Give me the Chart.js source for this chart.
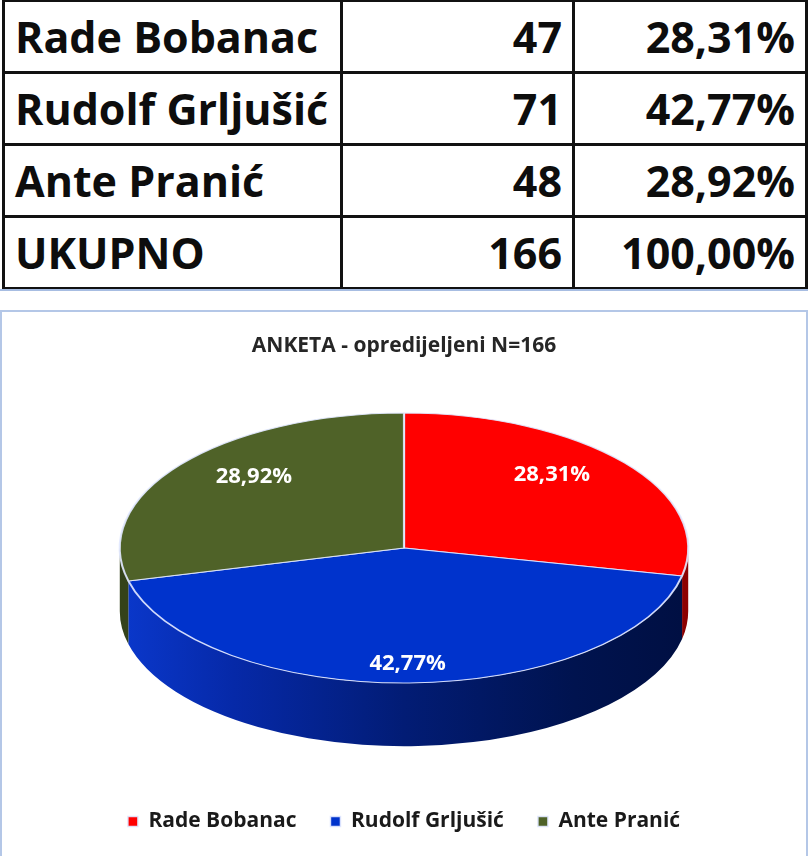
<!DOCTYPE html>
<html>
<head>
<meta charset="utf-8">
<script src="https://cdn.jsdelivr.net/npm/chart.js"></script>
<style>
  body { margin: 0; width: 808px; height: 856px; overflow: hidden; position: relative; background: #fff; }
  #summary { position: absolute; left: 2px; top: -1px; width: 803px; border-collapse: collapse; table-layout: fixed; }
  #summary td { border: 3px solid #111; height: 69px; padding: 0 10px; font: bold 43px 'Open Sans', sans-serif; color: #0d0d0d; white-space: nowrap; overflow: hidden; line-height: 1; }
  #summary td.num { text-align: right; padding-right: 10px; }
  #rule { position: absolute; left: 0; top: 289px; width: 808px; height: 2px; background: #a7bde2; }
  #box { position: absolute; left: 0; top: 310px; width: 804px; height: 560px; border: 2px solid #b4c7e7; }
  #myChart { display: block; }
</style>
</head>
<body>
<table id="summary">
  <colgroup><col style="width:338px"><col style="width:232px"><col style="width:233px"></colgroup>
  <tbody id="rows"></tbody>
</table>
<div id="rule"></div>
<div id="box"><canvas id="myChart" width="804" height="544"></canvas></div>
<script>
const candidates = ["Rade Bobanac", "Rudolf Grljušić", "Ante Pranić"];
const votes = [47, 71, 48];
const totalLabel = "UKUPNO";
const chartTitle = "ANKETA - opredijeljeni N=166";
const sliceColors = ["#ff0000", "#0033cc", "#4f6228"];
const wallColors = ["#8c0000", null, "#34421a"];

// look of the tilted pie
const PIE_WIDTH = 0.707;   // share of chart width taken by the pie
const TILT = 0.475;        // ry / rx
const DEPTH = 0.222;       // side height / rx
const LABEL_X = 0.67;
const LABEL_Y = 0.86;

const total = votes.reduce((a, b) => a + b, 0);
const fmtPct = (v) => (v / total * 100).toFixed(2).replace(".", ",") + "%";
const pctLabels = votes.map(fmtPct);

function buildTable() {
  const rowsEl = document.getElementById("rows");
  const addRow = (name, n, pct) => {
    const tr = document.createElement("tr");
    tr.innerHTML = `<td>${name}</td><td class="num">${n}</td><td class="num">${pct}</td>`;
    rowsEl.appendChild(tr);
  };
  candidates.forEach((name, i) => addRow(name, votes[i], pctLabels[i]));
  addRow(totalLabel, total, fmtPct(total));
}

const pie3d = {
  id: "pie3d",
  beforeDatasetsDraw(chart) {
    const ctx = chart.ctx;
    const area = chart.chartArea;
    const arcs = chart.getDatasetMeta(0).data;
    const r = arcs[0].outerRadius;
    const rx = (area.right - area.left) * PIE_WIDTH / 2;
    const ry = rx * TILT;
    const depth = rx * DEPTH;
    const cx = arcs[0].x;
    const cy = (area.top + area.bottom) / 2 - depth / 2;
    chart.$pie3d = { cx, cy, rx, ry };

    const grad = ctx.createLinearGradient(cx - rx, 0, cx + rx, 0);
    grad.addColorStop(0, "#0a38cc");
    grad.addColorStop(0.2, "#0629a8");
    grad.addColorStop(0.5, "#021c75");
    grad.addColorStop(0.8, "#00134f");
    grad.addColorStop(1, "#000f42");

    // side walls, front half only
    arcs.forEach((arc, i) => {
      const a0 = Math.max(arc.startAngle, 0);
      const a1 = Math.min(arc.endAngle, Math.PI);
      if (a1 <= a0) return;
      ctx.beginPath();
      ctx.ellipse(cx, cy, rx, ry, 0, a0, a1);
      ctx.ellipse(cx, cy + depth, rx, ry, 0, a1, a0, true);
      ctx.closePath();
      ctx.fillStyle = wallColors[i] || grad;
      ctx.fill();
    });

    // squash the library's pie onto the top face
    ctx.save();
    ctx.translate(cx, cy);
    ctx.scale(rx / r, ry / r);
    ctx.translate(-arcs[0].x, -arcs[0].y);
  },
  afterDatasetsDraw(chart) {
    const ctx = chart.ctx;
    ctx.restore();
    const { cx, cy, rx, ry } = chart.$pie3d;
    const arcs = chart.getDatasetMeta(0).data;
    ctx.save();
    ctx.font = "bold 22px 'Open Sans', sans-serif";
    ctx.fillStyle = "#ffffff";
    ctx.textAlign = "center";
    ctx.textBaseline = "middle";
    arcs.forEach((arc, i) => {
      const mid = (arc.startAngle + arc.endAngle) / 2;
      ctx.fillText(pctLabels[i], cx + rx * LABEL_X * Math.cos(mid), cy + ry * LABEL_Y * Math.sin(mid));
    });
    ctx.restore();
  }
};

function render() {
  buildTable();
  const ctx = document.getElementById("myChart");
  new Chart(ctx, {
    type: "pie",
    data: {
      labels: candidates,
      datasets: [{
        data: votes,
        backgroundColor: sliceColors,
        borderColor: "rgba(225,232,255,0.9)",
        borderWidth: 1.5,
        clip: false
      }]
    },
    options: {
      responsive: false,
      animation: false,
      events: [],
      layout: { padding: { top: 0, bottom: 14 } },
      plugins: {
        title: {
          display: true,
          text: chartTitle,
          color: "#262626",
          font: { family: "'Open Sans', sans-serif", size: 21, weight: "bold" },
          padding: { top: 21, bottom: 24 }
        },
        legend: {
          position: "bottom",
          labels: {
            boxWidth: 10,
            boxHeight: 10,
            padding: 34,
            color: "#1a1a1a",
            font: { family: "'Open Sans', sans-serif", size: 21, weight: "bold" }
          }
        },
        tooltip: { enabled: false }
      }
    },
    plugins: [pie3d]
  });
}

render();
</script>
</body>
</html>
